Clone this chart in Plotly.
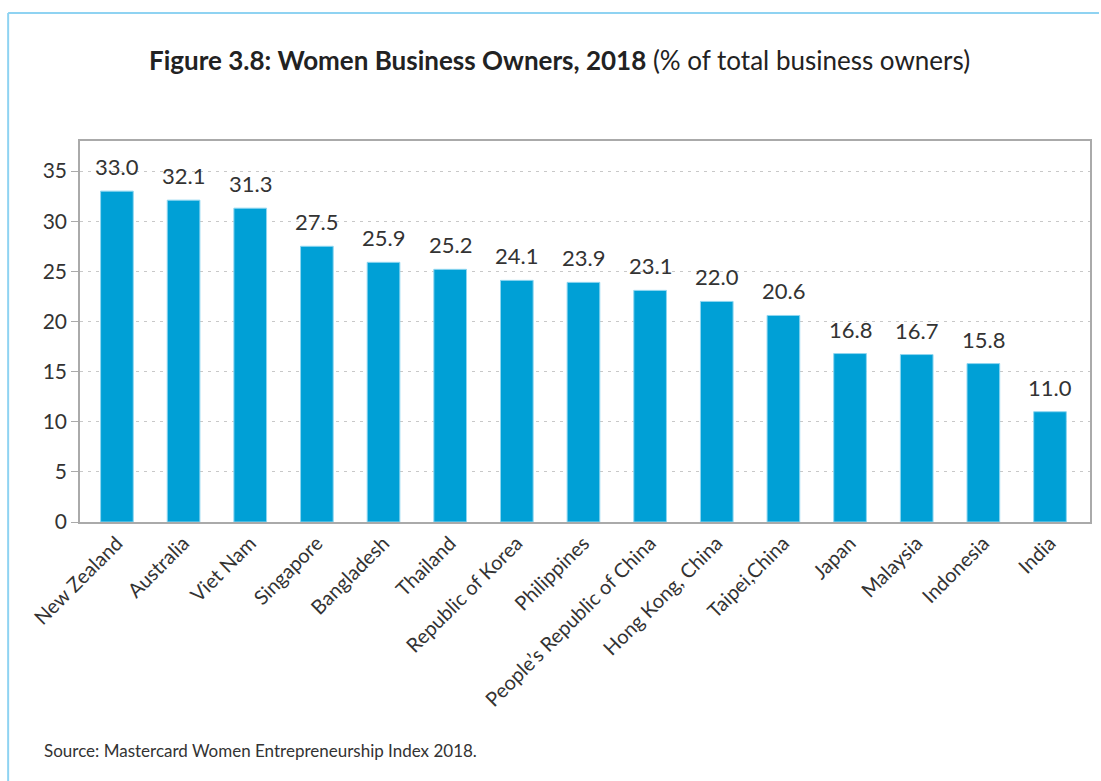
import plotly.graph_objects as go

countries = ["New Zealand", "Australia", "Viet Nam", "Singapore", "Bangladesh", "Thailand",
             "Republic of Korea", "Philippines", "People’s Republic of China", "Hong Kong, China",
             "Taipei,China", "Japan", "Malaysia", "Indonesia", "India"]
values = [33.0, 32.1, 31.3, 27.5, 25.9, 25.2, 24.1, 23.9, 23.1, 22.0, 20.6, 16.8, 16.7, 15.8, 11.0]
y_ticks = [0, 5, 10, 15, 20, 25, 30, 35]

FONT = "Lato"
W, H = 1101, 781
L, R, T, B = 80, 9, 141, 259
pw, ph = W - L - R, H - T - B

def px_x(x):
    return (x - L) / pw

def px_y(y):
    return (H - B - y) / ph

xs = list(range(len(countries)))

fig = go.Figure()
fig.add_trace(go.Bar(
    x=xs, y=values,
    width=0.49,
    marker=dict(color="#00a0d6", line=dict(color="#8fd6f0", width=1)),
    cliponaxis=False,
))

annotations = [
    dict(x=x, y=v, xref="x", yref="y", text=f"{v:.1f}", showarrow=False,
         xanchor="center", yanchor="bottom", yshift=9,
         font=dict(family=FONT, size=22, color="#333333"))
    for x, v in zip(xs, values)
]
annotations += [
    dict(text="<b>Figure 3.8: Women Business Owners, 2018</b> (% of total business owners)",
         x=px_x(560), y=px_y(60), xref="paper", yref="paper",
         xanchor="center", yanchor="middle", showarrow=False,
         font=dict(family=FONT, size=26, color="#222222")),
    dict(text="Source: Mastercard Women Entrepreneurship Index 2018.",
         x=px_x(42), y=px_y(750), xref="paper", yref="paper",
         xanchor="left", yanchor="middle", showarrow=False,
         font=dict(family=FONT, size=17, color="#333333")),
]

fig.update_layout(
    width=W, height=H,
    margin=dict(l=L, r=R, t=T, b=B),
    paper_bgcolor="white", plot_bgcolor="white",
    showlegend=False,
    font=dict(family=FONT, color="#333333"),
    xaxis=dict(
        tickmode="array", tickvals=xs, ticktext=countries,
        tickangle=-45, tickfont=dict(family=FONT, size=20, color="#333333"),
        range=[-0.554, 14.6], showgrid=False, ticks="",
        showline=True, mirror=True, linecolor="#aaaaaa", linewidth=1.5,
    ),
    yaxis=dict(
        range=[0, 38], tickvals=y_ticks, tickfont=dict(family=FONT, size=21, color="#333333"),
        ticks="outside", ticklen=7, tickcolor="#aaaaaa",
        showgrid=True, gridcolor="#c8c8c8", griddash="3px,5px", gridwidth=1,
        showline=True, mirror=True, linecolor="#aaaaaa", linewidth=1.5,
        zeroline=False,
    ),
    annotations=annotations,
    shapes=[
        dict(type="line", xref="paper", yref="paper", x0=px_x(8), x1=px_x(8),
             y0=px_y(13), y1=px_y(781), line=dict(color="#8fd3f2", width=2)),
        dict(type="line", xref="paper", yref="paper", x0=px_x(8), x1=px_x(1101),
             y0=px_y(13), y1=px_y(13), line=dict(color="#8fd3f2", width=2)),
    ],
)

fig.write_html("out.html")
